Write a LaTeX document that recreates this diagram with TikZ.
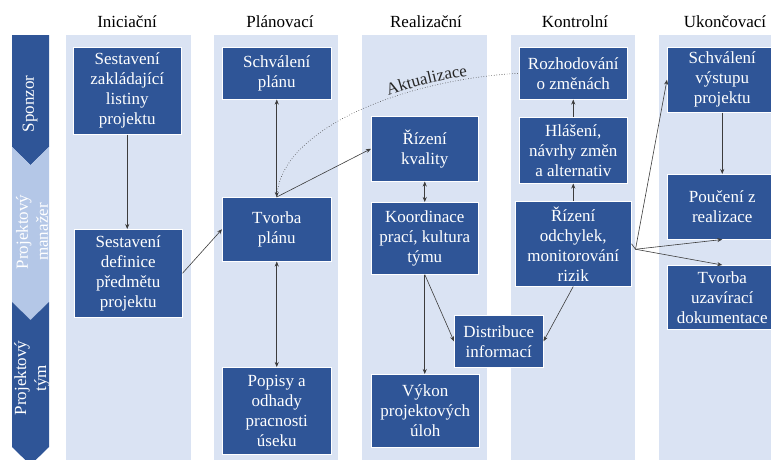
\documentclass[tikz,border=0pt]{standalone}
\usepackage{fontspec}
\setmainfont{Liberation Serif}
\usetikzlibrary{arrows.meta,calc,decorations.text}
\definecolor{boxblue}{RGB}{47,85,151}
\definecolor{lanebg}{RGB}{218,227,243}
\definecolor{lightchev}{RGB}{180,199,231}
\definecolor{linegray}{RGB}{60,60,60}
\begin{document}
\begin{tikzpicture}[x=1pt,y=-1pt,
  every node/.style={font=\fontsize{17}{20}\selectfont},
  task/.style={fill=boxblue,draw=white,line width=0.5pt,text=white,align=center,
    anchor=north west,inner sep=1pt},
  lane/.style={fill=lanebg,draw=none},
  head/.style={anchor=base,text=black},
  conn/.style={draw=linegray,line width=0.6pt,-{Stealth[length=5pt,width=4pt]}},
  dconn/.style={draw=linegray,line width=0.6pt,{Stealth[length=5pt,width=4pt]}-{Stealth[length=5pt,width=4pt]}},
  lanetext/.style={text=white,align=center,rotate=90}]
\useasboundingbox (0,0) rectangle (771,459);
\clip (0,0) rectangle (771,459);

% phase columns
\fill[lane] (66,35) rectangle (191,465);
\fill[lane] (214,35) rectangle (338,465);
\fill[lane] (362,35) rectangle (487,465);
\fill[lane] (511,35) rectangle (635,465);
\fill[lane] (659,35) rectangle (784,465);

% phase titles
\node[head] (h1) at (127,27) {Iniciační};
\node[head] (h2) at (280,27) {Plánovací};
\node[head] (h3) at (426,27) {Realizační};
\node[head] (h4) at (575,27) {Kontrolní};
\node[head] (h5) at (725,27) {Ukončovací};

% role chevrons
\fill[boxblue] (12,35) -- (49,35) -- (49,147) -- (30.5,165) -- (12,147) -- cycle;
\fill[lightchev] (12,147) -- (30.5,165) -- (49,147) -- (49,302) -- (30.5,320) -- (12,302) -- cycle;
\fill[boxblue] (12,302) -- (30.5,320) -- (49,302) -- (49,447) -- (30.5,465) -- (12,447) -- cycle;
\node[lanetext] (r1) at (30,104) {Sponzor};
\node[lanetext] (r2) at (32,232) {Projektový\\manažer};
\node[lanetext] (r3) at (32,378) {Projektový\\tým};

% Iniciační
\node[task,minimum width=108pt,minimum height=87pt] (zal) at (73,47) {Sestavení\\zakládající\\listiny\\projektu};
\node[task,minimum width=108pt,minimum height=88pt] (def) at (74,229) {Sestavení\\definice\\předmětu\\projektu};

% Plánovací
\node[task,minimum width=109pt,minimum height=52pt] (schv) at (222,47) {Schválení\\plánu};
\node[task,minimum width=109pt,minimum height=64pt] (tvp) at (222,197) {Tvorba\\plánu};
\node[task,minimum width=109pt,minimum height=87pt] (pop) at (222,367) {Popisy a\\odhady\\pracnosti\\úseku};

% Realizační
\node[task,minimum width=107pt,minimum height=65pt] (kval) at (371,116) {Řízení\\kvality};
\node[task,minimum width=107pt,minimum height=72pt] (koord) at (371,202) {Koordinace\\prací, kultura\\týmu};
\node[task,minimum width=108pt,minimum height=73pt] (vyk) at (371,374) {Výkon\\projektových\\úloh};
\node[task,minimum width=89pt,minimum height=52pt] (dist) at (454,315) {Distribuce\\informací};

% Kontrolní
\node[task,minimum width=108pt,minimum height=52pt] (rozh) at (519,47) {Rozhodování\\o změnách};
\node[task,minimum width=108pt,minimum height=66pt] (hlas) at (519,117) {Hlášení,\\návrhy změn\\a alternativ};
\node[task,minimum width=116pt,minimum height=85pt] (odch) at (515,201) {Řízení\\odchylek,\\monitorování\\rizik};

% Ukončovací
\node[task,minimum width=110pt,minimum height=65pt] (vyst) at (667,47) {Schválení\\výstupu\\projektu};
\node[task,minimum width=110pt,minimum height=65pt] (pouc) at (667,174) {Poučení z\\realizace};
\node[task,minimum width=110pt,minimum height=64pt] (uzav) at (667,265) {Tvorba\\uzavírací\\dokumentace};

% connectors
\draw[conn] (zal.south) -- (zal.south |- def.north);
\draw[conn] (def.east) -- (tvp.west);
\draw[dconn] (schv.south) -- (tvp.north);
\draw[dconn] (tvp.south) -- (pop.north);
\draw[conn] (tvp.north) -- (kval.west);
% plan update loop, labelled along the curve
\draw[draw=linegray,line width=0.6pt,dotted,
  postaction={decorate,decoration={text along path,raise=3pt,
    text align={left indent=158pt},
    text={|\fontsize{17}{20}\selectfont\color{black!85}|Aktualizace}}}]
  (tvp.north) .. controls (280,130) and (400,80) .. (rozh.west);
\draw[dconn] (kval.south) -- (koord.north);
\draw[conn] (koord.south) -- (koord.south |- vyk.north);
\draw[conn] (koord.south) -- (dist.west);
\draw[conn] (odch.north) -- (hlas.south);
\draw[conn] (hlas.north) -- (rozh.south);
\draw[conn] (odch.south) -- (dist.east);
\coordinate (fork) at ([shift={(4,5.5)}]odch.east);
\draw[draw=linegray,line width=0.6pt] (odch.east) -- (fork);
\draw[conn] (fork) -- (vyst.west);
\draw[conn] (fork) -- (pouc.south);
\draw[conn] (fork) -- (uzav.north);
\draw[conn] (vyst.south) -- (pouc.north);
\end{tikzpicture}
\end{document}
